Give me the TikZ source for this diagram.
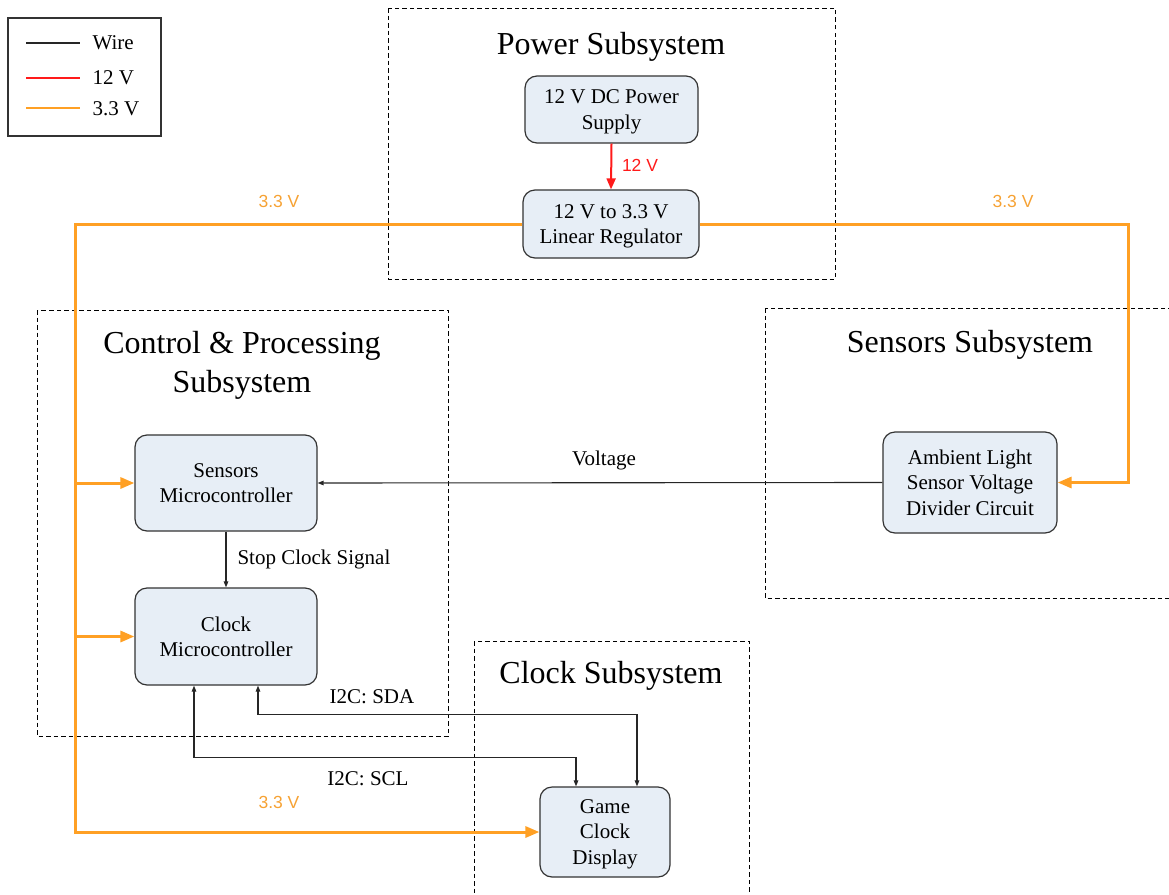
\documentclass[tikz,border=0pt]{standalone}
\usepackage{fontspec}
\setmainfont{Liberation Serif}
\newfontfamily\labelfont{Liberation Sans}
\usetikzlibrary{arrows.meta,calc}

\definecolor{boxfill}{HTML}{E7EEF6}
\definecolor{boxline}{HTML}{333333}
\definecolor{pwrorange}{HTML}{FFA024}
\definecolor{pwrtext}{HTML}{F6A234}
\definecolor{pwrred}{HTML}{FF1A1A}

\tikzset{
  block/.style={draw=boxline, line width=1.2pt, fill=boxfill, rounded corners=12pt,
    align=center, font=\fontsize{21}{25.5}\selectfont, inner sep=0pt, text depth=0pt},
  subsys/.style={draw=black, line width=1pt, dash pattern=on 4.5pt off 3pt},
  title/.style={font=\fontsize{32}{39}\selectfont, align=center},
  wire/.style={draw=black!85, line width=1.1pt, -{Triangle[length=6pt,width=4.5pt]}},
  wire2/.style={draw=black!85, line width=1.1pt, {Triangle[length=6pt,width=4.5pt]}-{Triangle[length=6pt,width=4.5pt]}},
  pwr/.style={draw=pwrorange, line width=3pt},
  pwrarrow/.style={pwr, -{Triangle[length=14pt,width=11pt]}},
  vlabel/.style={font=\labelfont\fontsize{17.5}{20}\selectfont, text=pwrtext},
  sig/.style={font=\fontsize{21}{24}\selectfont},
}

\begin{document}
\begin{tikzpicture}[x=1pt,y=-1pt]
\useasboundingbox (0,0) rectangle (1169,894);

% subsystem frames
\draw[subsys] (388,8) rectangle (835,279);
\draw[subsys] (37,310) rectangle (448,736);
\draw[subsys] (765,308) rectangle (1185,598);
\draw[subsys] (474,641) rectangle (749,910);

\node[title] (tpow) at (611,47) {Power Subsystem};
\node[title] (tctl) at (242,365) {Control \& Processing\\Subsystem};
\node[title] (tsen) at (970,345) {Sensors Subsystem};
\node[title] (tclk) at (611,676) {Clock Subsystem};

% legend
\draw[draw=boxline, line width=1.2pt] (8,18) rectangle (161,136);
\coordinate (lw1) at (26,43);  \coordinate (lw2) at (80,43);
\coordinate (lr1) at (26,78);  \coordinate (lr2) at (80,78);
\coordinate (lo1) at (26,108); \coordinate (lo2) at (80,108);
\draw[black!85, line width=2.2pt] (lw1) -- (lw2);
\draw[pwrred, line width=2.2pt] (lr1) -- (lr2);
\draw[pwrorange, line width=2.2pt] (lo1) -- (lo2);
\node[sig, anchor=west] (lgw) at (89,43) {Wire};
\node[sig, anchor=west] (lgr) at (89,78) {12 V};
\node[sig, anchor=west] (lgo) at (89,109) {3.3 V};

% blocks
\node[block, minimum width=173pt, minimum height=67pt] (psu) at (611.5,109.5) {12 V DC Power\\Supply};
\node[block, minimum width=176pt, minimum height=68pt] (reg) at (611,224) {12 V to 3.3 V\\Linear Regulator};
\node[block, minimum width=182pt, minimum height=96pt] (smc) at (226,483) {Sensors\\Microcontroller};
\node[block, minimum width=182pt, minimum height=97pt] (cmc) at (226,636.5) {Clock\\Microcontroller};
\node[block, minimum width=174pt, minimum height=101pt] (amb) at (970,482.5) {Ambient Light\\Sensor Voltage\\Divider Circuit};
\node[block, minimum width=130pt, minimum height=90pt] (disp) at (605,832) {Game\\Clock\\Display};

% 12 V supply
\draw[pwrred, line width=2pt, -{Triangle[length=11pt,width=9pt]}] (psu.south) -- (reg.north);
\node[font=\labelfont\fontsize{17.5}{20}\selectfont, text=pwrred] (l12) at (640,165) {12 V};

% 3.3 V distribution
\coordinate (busL) at (75,224);
\coordinate (busR) at (1128,224);
\draw[pwrarrow] (reg.west) -- (busL) -- (busL |- disp.west) -- (disp.west);
\draw[pwrarrow] (busL |- smc.west) -- (smc.west);
\draw[pwrarrow] (busL |- cmc.west) -- (cmc.west);
\draw[pwrarrow] (reg.east) -- (busR) -- (busR |- amb.east) -- (amb.east);
\node[vlabel] (v1) at (279,201) {3.3 V};
\node[vlabel] (v2) at (1013,201) {3.3 V};
\node[vlabel] (v3) at (279,802) {3.3 V};

% signals
\draw[wire] (amb.west) -- (smc.east);
\node[sig] (lvol) at (604,460) {Voltage};
\draw[wire] (smc.south) -- (cmc.north);
\node[sig, anchor=west] (lstop) at (234,559) {Stop Clock Signal};
\draw[wire2] ([xshift=32pt]cmc.south) -- ++(0,29) -| ([xshift=32pt]disp.north);
\node[sig] (lsda) at (372,697) {I2C: SDA};
\draw[wire2] ([xshift=-32pt]cmc.south) -- ++(0,72) -| ([xshift=-29pt]disp.north);
\node[sig] (lscl) at (368,779) {I2C: SCL};

\end{tikzpicture}
\end{document}
